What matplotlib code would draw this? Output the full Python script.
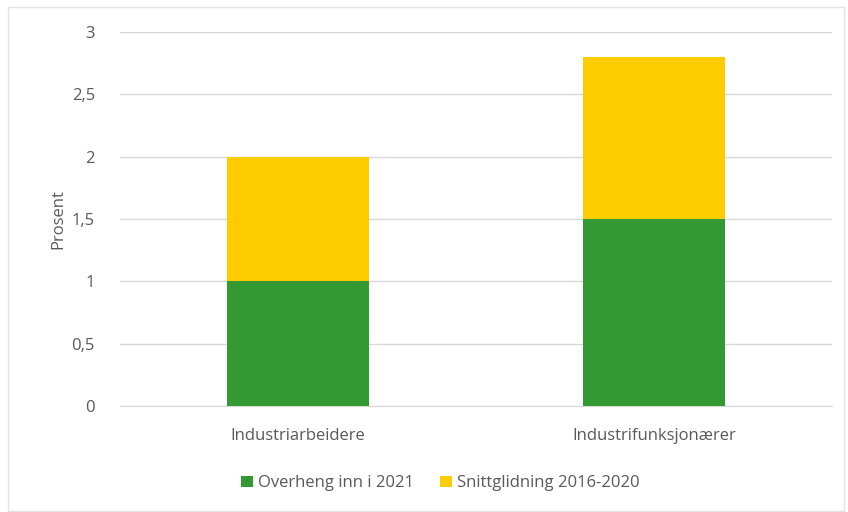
import numpy as np
import matplotlib.pyplot as plt
from matplotlib.patches import Rectangle
from matplotlib.ticker import FuncFormatter

# ---------- data ----------
categories = ["Industriarbeidere", "Industrifunksjonærer"]
overheng = [1.0, 1.5]
snittglidning = [1.0, 1.3]
series_names = ["Overheng inn i 2021", "Snittglidning 2016-2020"]

green = "#339933"
yellow = "#ffcc00"
text_col = "#595959"
grid_col = "#d9d9d9"

plt.rcParams["font.family"] = ["Open Sans", "DejaVu Sans"]

fig = plt.figure(figsize=(8.48, 5.12), dpi=100)
ax = fig.add_axes([0.1415, 0.207, 0.8395, 0.7305])

# chart border (Excel style)
fig.patches.append(Rectangle((8 / 848, 0.002), 0.995 - 8 / 848, 1 - 7 / 512 - 0.002,
                             transform=fig.transFigure, fill=False,
                             edgecolor="#e3e3e3", lw=1.0))

x = np.arange(len(categories))
ax.bar(x, overheng, width=0.4, color=green, label=series_names[0], zorder=3)
ax.bar(x, snittglidning, width=0.4, bottom=overheng, color=yellow,
       label=series_names[1], zorder=3)

ax.set_xlim(-0.5, 1.5)
ax.set_ylim(0, 3)
ax.set_yticks(np.arange(0, 3.01, 0.5))
ax.yaxis.set_major_formatter(FuncFormatter(lambda v, p: f"{v:g}".replace(".", ",")))
ax.grid(axis="y", color=grid_col, lw=1.0, zorder=0)
for s in ["top", "right", "left"]:
    ax.spines[s].set_visible(False)
ax.spines["bottom"].set_color(grid_col)
ax.tick_params(axis="y", length=0, pad=18, labelsize=12, labelcolor=text_col)
ax.tick_params(axis="x", length=0, pad=16, labelsize=12, labelcolor=text_col)
ax.set_xticks(x)
ax.set_xticklabels(categories)
ax.set_ylabel("Prosent", fontsize=12, color=text_col, labelpad=4)

ax.legend(loc="upper center", bbox_to_anchor=(0.45, -0.145), ncol=2, frameon=False,
          fontsize=12, handlelength=0.7, handleheight=0.7, handletextpad=0.3,
          columnspacing=1.6, labelcolor=text_col)

fig.savefig("out.png", dpi=100, facecolor="white")
